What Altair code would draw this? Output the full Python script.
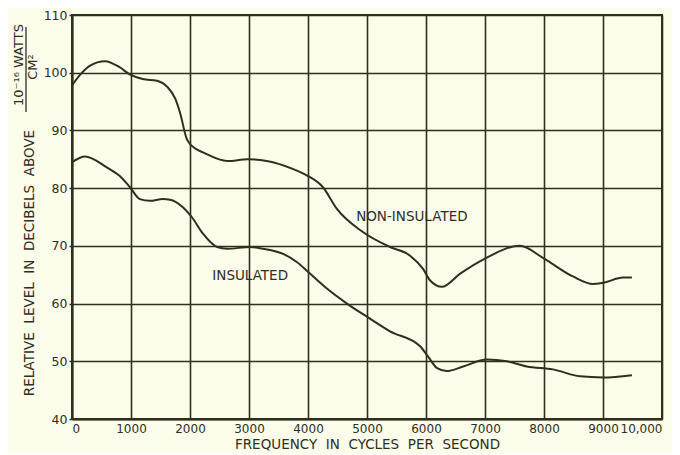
import altair as alt
import pandas as pd

# Non-insulated curve (frequency Hz, level dB)
non_freq = [0, 150, 300, 560, 800, 980, 1200, 1440, 1610, 1750, 1830, 1950, 2100, 2220,
            2630, 2980, 3300, 3750, 4000, 4250, 4490, 4930, 5390, 5730, 5950, 6070, 6270,
            6580, 7000, 7590, 8000, 8490, 8830, 9000, 9340, 9490]
non_level = [97.8, 99.8, 101.2, 102.0, 101.0, 99.7, 98.9, 98.6, 97.6, 95.5, 93.1, 88.4, 86.8, 86.2,
             84.7, 85.0, 84.7, 83.3, 82.1, 80.2, 76.4, 72.4, 69.8, 68.3, 66.0, 64.0, 62.9,
             65.2, 67.8, 70.0, 67.8, 64.7, 63.4, 63.6, 64.5, 64.5]

# Insulated curve
ins_freq = [0, 220, 590, 810, 980, 1150, 1320, 1540, 1660, 1880, 2030, 2220, 2460, 2630,
            3020, 3240, 3580, 3810, 4000, 4320, 4660, 5050, 5390, 5900, 6030, 6190, 6350,
            6630, 7030, 7370, 7710, 8150, 8610, 9000, 9490]
ins_level = [84.5, 85.5, 83.6, 82.1, 80.2, 78.1, 77.8, 78.1, 78.0, 76.7, 75.0, 72.1, 69.8, 69.5,
             69.8, 69.5, 68.6, 67.2, 65.5, 62.6, 60.0, 57.4, 55.2, 52.6, 50.9, 48.8, 48.3,
             49.1, 50.3, 50.0, 49.1, 48.6, 47.4, 47.2, 47.6]

x_ticks = [0, 1000, 2000, 3000, 4000, 5000, 6000, 7000, 8000, 9000, 10000]
y_ticks = [40, 50, 60, 70, 80, 90, 100, 110]

label_text = ["NON-INSULATED", "INSULATED"]
label_freq = [5760, 3020]
label_level = [75.0, 64.8]

INK = "#2f2f1f"
BG = "#fbfce9"
FONT = "DejaVu Sans"
SP = " \u00a0"  # wider word spacing, as in the original lettering

df = pd.concat([
    pd.DataFrame({"freq": non_freq, "level": non_level, "series": "NON-INSULATED"}),
    pd.DataFrame({"freq": ins_freq, "level": ins_level, "series": "INSULATED"}),
])
lab = pd.DataFrame({"text": label_text, "freq": label_freq, "level": label_level})

xs = alt.Scale(domain=[0, 10000], nice=False)
ys = alt.Scale(domain=[40, 110], nice=False)

lines = alt.Chart(df).mark_line(color=INK, strokeWidth=2, interpolate="monotone").encode(
    x=alt.X("freq:Q", scale=xs, axis=alt.Axis(
        values=x_ticks, title=SP.join(["FREQUENCY", "IN", "CYCLES", "PER", "SECOND"]),
        labelExpr="datum.value == 10000 ? '10,000' : datum.value",
        grid=True, gridColor=INK, gridWidth=1.6, gridOpacity=1,
        domainColor=INK, domainWidth=2, tickSize=0, labelPadding=4,
        labelFont=FONT, labelFontSize=12, labelColor=INK,
        titleFont=FONT, titleFontSize=13.5, titleFontWeight="normal", titleColor=INK,
        titlePadding=3)),
    y=alt.Y("level:Q", scale=ys, axis=alt.Axis(
        values=y_ticks, title=None,
        grid=True, gridColor=INK, gridWidth=1.6, gridOpacity=1,
        domainColor=INK, domainWidth=2, tickSize=3, tickColor=INK, tickWidth=1.5,
        labelPadding=2,
        labelFont=FONT, labelFontSize=12.5, labelColor=INK)),
    detail="series:N",
)

labels = alt.Chart(lab).mark_text(font=FONT, fontSize=13.5, color=INK, align="center",
                                  baseline="middle").encode(
    x=alt.X("freq:Q", scale=xs), y=alt.Y("level:Q", scale=ys), text="text:N")

# rotated y-axis title pieces (pixel positions relative to plot area)
title_main = alt.Chart(pd.DataFrame({"t": [SP.join(["RELATIVE", "LEVEL", "IN", "DECIBELS", "ABOVE"])]})).mark_text(
    font=FONT, fontSize=13.5, color=INK, angle=270, align="center", baseline="middle").encode(
    x=alt.value(-42), y=alt.value(248), text="t:N")
title_num = alt.Chart(pd.DataFrame({"t": ["10⁻¹⁶ WATTS"]})).mark_text(
    font=FONT, fontSize=13, color=INK, angle=270, align="center", baseline="middle").encode(
    x=alt.value(-53), y=alt.value(50), text="t:N")
title_den = alt.Chart(pd.DataFrame({"t": ["CM²"]})).mark_text(
    font=FONT, fontSize=13, color=INK, angle=270, align="center", baseline="middle").encode(
    x=alt.value(-39), y=alt.value(52), text="t:N")
frac_line = alt.Chart(pd.DataFrame({"a": [0]})).mark_rule(color=INK, strokeWidth=1.3).encode(
    x=alt.value(-46), y=alt.value(12), y2=alt.value(97))

chart = alt.layer(lines, labels, title_main, title_num, title_den, frac_line).properties(
    width=590, height=404,
    autosize=alt.AutoSizeParams(type="none"),
    padding={"left": 64, "top": 7, "right": 10, "bottom": 35},
    background=BG,
).configure_view(stroke=INK, strokeWidth=2)

chart.save("out.html", embed_options={"renderer": "svg", "actions": False})
